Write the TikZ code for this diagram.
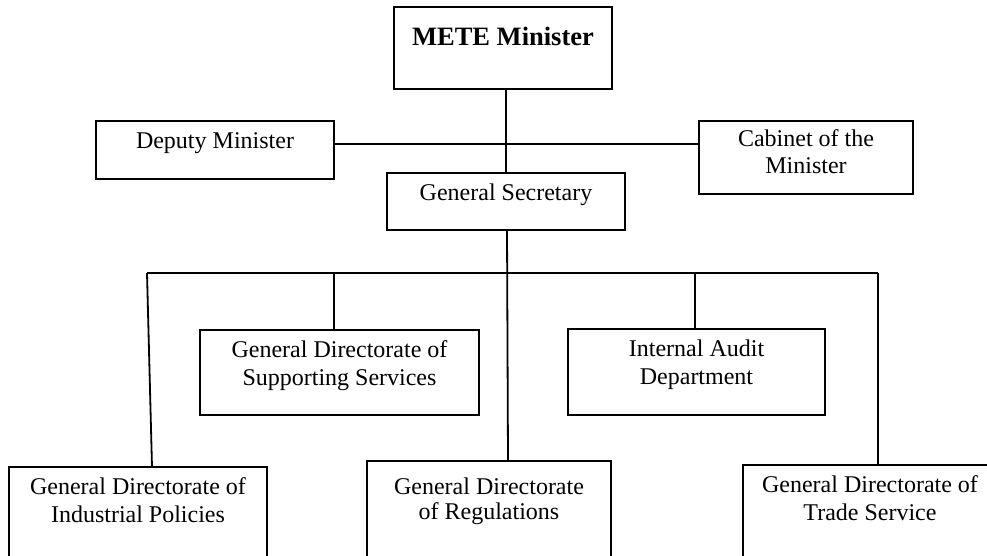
\documentclass[tikz,border=0pt]{standalone}
\usepackage{fontspec}
\setmainfont{Liberation Serif}
\usetikzlibrary{calc}
\tikzset{
  orgbox/.style={draw, line width=1.8pt, inner sep=0pt, outer sep=0pt, anchor=north west,
    font=\fontsize{24}{28.5}\selectfont},
  conn/.style={line width=1.8pt},
}
\newcommand{\bxt}[4]{\parbox[t][#2][t]{#1}{\centering\rule{0pt}{#3}#4}}
\begin{document}
\begin{tikzpicture}[x=1pt,y=-1pt]
\useasboundingbox (0,0) rectangle (987,555);
\clip (0,0) rectangle (987,555);
% top level
\node[orgbox] (min) at (394,7) {\bxt{218pt}{82pt}{38pt}{\fontsize{26.5}{30}\selectfont\bfseries METE Minister}};
\node[orgbox] (dm) at (96,121) {\bxt{238pt}{58pt}{27pt}{Deputy Minister}};
\node[orgbox] (cab) at (699,121) {\bxt{214pt}{73pt}{25pt}{\fontsize{24}{27.5}\selectfont Cabinet of the\\Minister}};
\node[orgbox] (gs) at (387,173) {\bxt{238pt}{57pt}{27pt}{General Secretary}};
% middle level
\node[orgbox] (sup) at (200,330) {\bxt{279pt}{85pt}{27pt}{General Directorate of\\Supporting Services}};
\node[orgbox] (aud) at (568,329) {\bxt{257pt}{86pt}{27pt}{Internal Audit\\Department}};
% bottom level
\node[orgbox] (ind) at (9,467) {\bxt{258pt}{120pt}{27pt}{General Directorate of\\Industrial Policies}};
\node[orgbox] (reg) at (367,461) {\bxt{244pt}{120pt}{33pt}{\fontsize{24}{25.5}\selectfont General Directorate\\of Regulations}};
\node[orgbox] (trd) at (743,465) {\bxt{254pt}{120pt}{27pt}{\fontsize{24}{28}\selectfont General Directorate of\\Trade Service}};
% connector points
\coordinate (hub) at (506,144);
\coordinate (busL) at (147,273);
\coordinate (busR) at (878,273);
\coordinate (supT) at ($(sup.north west)+(134,0)$);
\coordinate (audT) at ($(aud.north west)+(127,0)$);
\coordinate (indT) at ($(ind.north west)+(143,0)$);
\coordinate (regT) at ($(reg.north west)+(141,0)$);
\coordinate (gsB) at ($(gs.south)+(1,0)$);
% connectors
\draw[conn] (gs.north |- min.south) -- (gs.north);
\draw[conn] (dm.east |- hub) -- (cab.west |- hub);
\draw[conn] (gsB) -- (regT);
\draw[conn] (busL) -- (busR);
\draw[conn] (busL) -- (indT);
\draw[conn] (supT |- busL) -- (supT);
\draw[conn] (audT |- busL) -- (audT);
\draw[conn] (busR) -- (busR |- trd.north);
\end{tikzpicture}
\end{document}
